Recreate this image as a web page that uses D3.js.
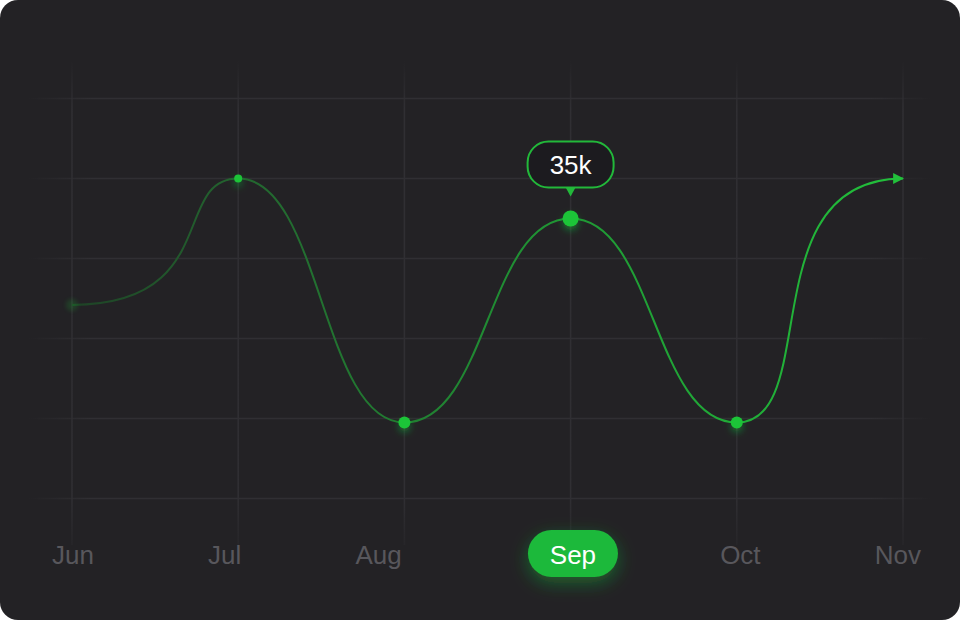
<!DOCTYPE html>
<html>
<head>
<meta charset="utf-8">
<script src="https://cdn.jsdelivr.net/npm/d3@7"></script>
<style>
  html, body { margin: 0; padding: 0; background: #ffffff; }
  svg { display: block; font-family: 'Liberation Sans', Arial, Helvetica, sans-serif; }
</style>
</head>
<body>
<div id="chart"></div>
<script>
// monthly values, in thousands
const months = ['Jun', 'Jul', 'Aug', 'Sep', 'Oct', 'Nov']
const values = [24.2, 40, 9.5, 35, 9.5, 40]
const yTicks = [0, 10, 20, 30, 40, 50]
const activeMonth = 'Sep'

// drawing styles (not data)
const dotRadius = [6, 4, 6, 8, 6]
const curveBias = [[0.9, 0.6], [0.5, 0.5], [0.5, 0.5], [0.5, 0.5], [0.52, 0.08]]
const green = '#1ec437'

const width = 960
const height = 620

// cubic segments with horizontal handles, handle length per segment
function curveSkewed (bias) {
  return function (context) {
    return {
      areaStart () {},
      areaEnd () {},
      lineStart () { this._i = 0 },
      lineEnd () {},
      point (px, py) {
        if (this._i === 0) {
          context.moveTo(px, py)
        } else {
          const [p, q] = bias[this._i - 1] || [0.5, 0.5]
          const dx = px - this._x
          context.bezierCurveTo(this._x + dx * p, this._y, this._x + dx * q, py, px, py)
        }
        this._x = px
        this._y = py
        this._i++
      }
    }
  }
}

const x = d3.scalePoint().domain(months).range([72, 903])
const y = d3.scaleLinear().domain([0, 50]).range([498.5, 98.5])

const svg = d3.select('#chart')
  .append('svg')
  .attr('width', width)
  .attr('height', height)

const defs = svg.append('defs')

const lineGrad = defs.append('linearGradient')
  .attr('id', 'lineGrad')
  .attr('gradientUnits', 'userSpaceOnUse')
  .attr('x1', x.range()[0]).attr('x2', x.range()[1])
  .attr('y1', 0).attr('y2', 0)
lineGrad.selectAll('stop')
  .data([[0, '#1e4226'], [0.2, '#23652f'], [0.6, '#1f9834'], [1, '#22c03b']])
  .enter().append('stop')
  .attr('offset', d => d[0])
  .attr('stop-color', d => d[1])

const gridH = defs.append('linearGradient')
  .attr('id', 'gridH')
  .attr('gradientUnits', 'userSpaceOnUse')
  .attr('x1', 28).attr('x2', 932).attr('y1', 0).attr('y2', 0)
gridH.selectAll('stop')
  .data([[0, 0], [0.07, 1], [0.93, 1], [1, 0]])
  .enter().append('stop')
  .attr('offset', d => d[0])
  .attr('stop-color', '#302f33')
  .attr('stop-opacity', d => d[1])

const gridV = defs.append('linearGradient')
  .attr('id', 'gridV')
  .attr('gradientUnits', 'userSpaceOnUse')
  .attr('x1', 0).attr('x2', 0).attr('y1', 60).attr('y2', 545)
gridV.selectAll('stop')
  .data([[0, 0], [0.1, 1], [0.9, 1], [1, 0.3]])
  .enter().append('stop')
  .attr('offset', d => d[0])
  .attr('stop-color', '#302f33')
  .attr('stop-opacity', d => d[1])

defs.append('filter')
  .attr('id', 'dotGlow')
  .attr('x', '-200%').attr('y', '-200%').attr('width', '500%').attr('height', '500%')
  .append('feDropShadow')
  .attr('dx', 0).attr('dy', 4).attr('stdDeviation', 3.5)
  .attr('flood-color', green).attr('flood-opacity', 0.45)

defs.append('filter')
  .attr('id', 'pillGlow')
  .attr('x', '-50%').attr('y', '-80%').attr('width', '200%').attr('height', '260%')
  .append('feDropShadow')
  .attr('dx', 0).attr('dy', 6).attr('stdDeviation', 9)
  .attr('flood-color', green).attr('flood-opacity', 0.4)

defs.append('filter')
  .attr('id', 'soft')
  .attr('x', '-100%').attr('y', '-100%').attr('width', '300%').attr('height', '300%')
  .append('feGaussianBlur')
  .attr('stdDeviation', 2)

defs.append('marker')
  .attr('id', 'arrow')
  .attr('viewBox', '0 0 10 10')
  .attr('refX', 9).attr('refY', 5)
  .attr('markerUnits', 'userSpaceOnUse')
  .attr('markerWidth', 11).attr('markerHeight', 11)
  .attr('orient', 'auto')
  .append('path')
  .attr('d', 'M0,0 L10,5 L0,10 Z')
  .attr('fill', '#22c03b')

// card
svg.append('rect')
  .attr('width', width)
  .attr('height', height)
  .attr('rx', 18)
  .attr('fill', '#232225')

// grid
svg.append('g')
  .selectAll('line')
  .data(yTicks)
  .enter().append('line')
  .attr('x1', 28).attr('x2', 932)
  .attr('y1', d => y(d)).attr('y2', d => y(d))
  .attr('stroke', 'url(#gridH)')
  .attr('stroke-width', 1.5)

svg.append('g')
  .selectAll('line')
  .data(months)
  .enter().append('line')
  .attr('x1', d => x(d)).attr('x2', d => x(d))
  .attr('y1', 60).attr('y2', 545)
  .attr('stroke', 'url(#gridV)')
  .attr('stroke-width', 1.5)

// line
const line = d3.line()
  .x((d, i) => x(months[i]))
  .y(d => y(d))
  .curve(curveSkewed(curveBias))

svg.append('path')
  .attr('d', line(values))
  .attr('fill', 'none')
  .attr('stroke', 'url(#lineGrad)')
  .attr('stroke-width', 2)
  .attr('marker-end', 'url(#arrow)')

// dots (last point ends in the arrow)
const dots = values.slice(0, -1)
svg.append('g')
  .selectAll('circle')
  .data(dots)
  .enter().append('circle')
  .attr('cx', (d, i) => x(months[i]))
  .attr('cy', d => y(d))
  .attr('r', (d, i) => dotRadius[i])
  .attr('fill', green)
  .attr('opacity', (d, i) => i === 0 ? 0.18 : 1)
  .attr('filter', (d, i) => i === 0 ? 'url(#soft)' : 'url(#dotGlow)')

// tooltip for active month
const ai = months.indexOf(activeMonth)
const tx = x(activeMonth)
const ty = y(values[ai])
const tip = svg.append('g').attr('transform', `translate(${tx},${ty})`)
tip.append('path')
  .attr('d', 'M-6,-33 L6,-33 L0,-22 Z')
  .attr('fill', '#22b83a')
tip.append('rect')
  .attr('x', -43).attr('y', -77)
  .attr('width', 86).attr('height', 46)
  .attr('rx', 21)
  .attr('fill', '#1c1b1f')
  .attr('stroke', '#22b83a')
  .attr('stroke-width', 2)
tip.append('text')
  .attr('y', -45)
  .attr('text-anchor', 'middle')
  .attr('font-size', 26)
  .attr('fill', '#ffffff')
  .text(`${values[ai]}k`)

// month labels, spread edge to edge
const pillW = 90
const pillH = 47
const pillNudge = 12
const labelLeft = 52
const labelRight = 921
const baseline = 564

const pillLayer = svg.append('g')
const labels = svg.append('g')
  .selectAll('text')
  .data(months)
  .enter().append('text')
  .attr('y', baseline)
  .attr('text-anchor', 'middle')
  .attr('font-size', 26)
  .attr('fill', d => d === activeMonth ? '#ffffff' : '#58575c')
  .text(d => d)

const itemW = labels.nodes().map((n, i) => months[i] === activeMonth ? pillW : n.getComputedTextLength())
const gap = (labelRight - labelLeft - d3.sum(itemW)) / (months.length - 1)
let cursor = labelLeft
const centers = itemW.map(w => {
  const c = cursor + w / 2
  cursor += w + gap
  return c
})

labels.attr('x', (d, i) => centers[i] + (d === activeMonth ? pillNudge : 0))

pillLayer.append('rect')
  .attr('x', centers[ai] + pillNudge - pillW / 2)
  .attr('y', 530)
  .attr('width', pillW)
  .attr('height', pillH)
  .attr('rx', pillH / 2)
  .attr('fill', '#1db93a')
  .attr('filter', 'url(#pillGlow)')
</script>
</body>
</html>
